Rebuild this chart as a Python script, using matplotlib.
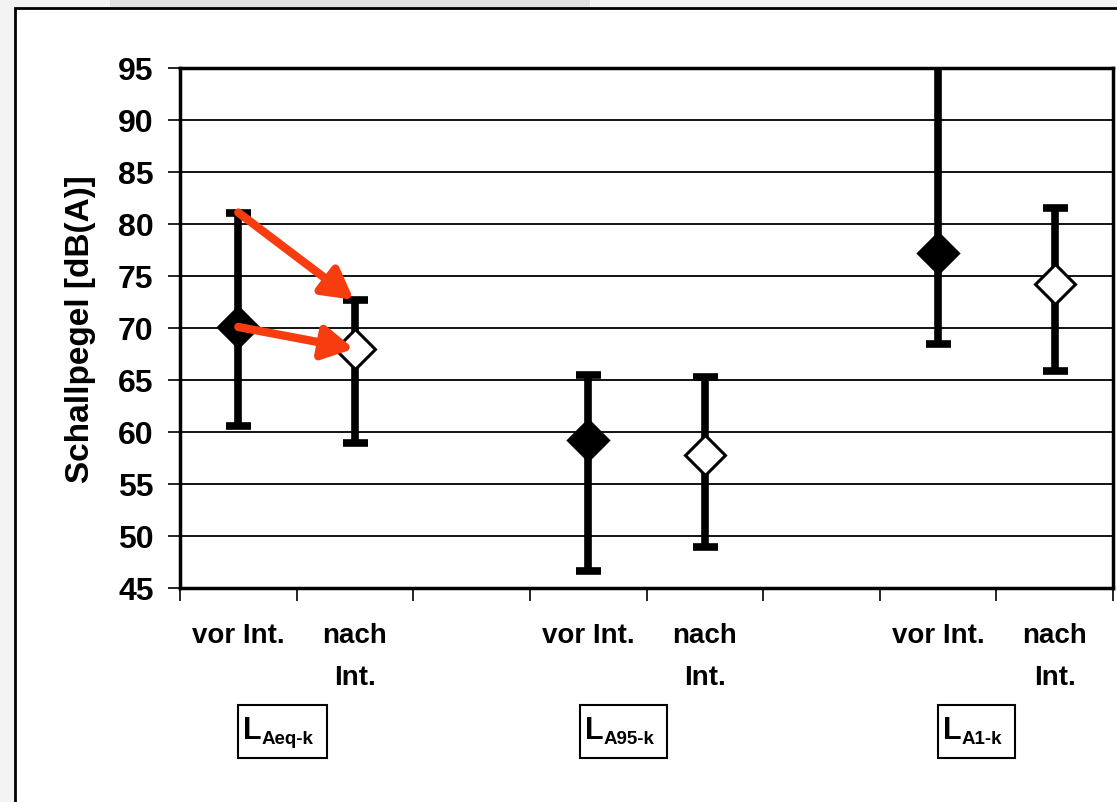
import matplotlib.pyplot as plt
import matplotlib.transforms as mtransforms
from matplotlib.patches import Rectangle

plt.rcParams['font.family'] = ['Liberation Sans', 'DejaVu Sans']

# category slots on the x axis (empty slots separate the groups)
categories = ['vor Int.', 'nach\nInt.', '', 'vor Int.', 'nach\nInt.', '', 'vor Int.', 'nach\nInt.']
slots = [0, 1, 3, 4, 6, 7]
means = [70.1, 68.0, 59.2, 57.8, 77.2, 74.2]
highs = [81.1, 72.7, 65.5, 65.3, 95.5, 81.5]
lows = [60.6, 58.9, 46.6, 48.9, 68.5, 65.9]
filled = [True, False, True, False, True, False]
groups = ['Aeq-k', 'A95-k', 'A1-k']
group_slots = [0, 3, 6]
box_widths = [0.76, 0.75, 0.66]
yticks = list(range(45, 100, 5))

fig = plt.figure(figsize=(11.17, 8.03), dpi=100)
fig.patch.set_facecolor('#f3f3f3')

# blurred picture strip above the page, roughly
fig.patches.append(Rectangle((110 / 1117, 1 - 9 / 803), 480 / 1117, 9 / 803,
                             transform=fig.transFigure, facecolor='#e2e2e2',
                             edgecolor='none', zorder=-6))
# white page with black frame
page = Rectangle((15 / 1117, -0.01), 1.02, 1 - 9 / 803 + 0.01, transform=fig.transFigure,
                 facecolor='white', edgecolor='black', linewidth=2, zorder=-5)
fig.patches.append(page)

ax = fig.add_axes([180 / 1117, 1 - 589 / 803, (1113 - 180) / 1117, 520 / 803])
ax.set_zorder(1)
ax.set_xlim(0, 8)
ax.set_ylim(45, 95)

for v in yticks:
    ax.axhline(v, color='black', linewidth=1.3, zorder=1)

for s in ax.spines.values():
    s.set_linewidth(2.5)
    s.set_zorder(2)

ax.set_yticks(yticks)
ax.set_yticklabels([str(v) for v in yticks], fontsize=23, fontweight='bold')
ax.tick_params(axis='y', direction='out', length=9, width=1.2, pad=10)
ax.set_xticks(range(9))
ax.set_xticklabels([])
ax.tick_params(axis='x', direction='out', length=9, width=1.2)

ax.set_ylabel('Schallpegel [dB(A)]', fontsize=24, fontweight='bold', labelpad=16)

xs = [s + 0.5 for s in slots]
for x, m, hi, lo, f in zip(xs, means, highs, lows, filled):
    ax.errorbar([x], [m], yerr=[[m - lo], [hi - m]], fmt='none', ecolor='black',
                elinewidth=5.5, capsize=9, capthick=5.5, zorder=3)
    ax.plot([x], [m], marker='D', markersize=20, markeredgewidth=2.2,
            markeredgecolor='black', markerfacecolor='black' if f else 'white',
            linestyle='none', zorder=4)

# red arrows for the first group
red = '#f73c10'
for y0, y1 in [(highs[0], highs[1]), (means[0], means[1])]:
    ax.annotate('', xy=(xs[1] - 0.01, y1), xytext=(xs[0], y0),
                arrowprops=dict(arrowstyle='-|>,head_length=1.8,head_width=1.0',
                                color=red, linewidth=6, shrinkA=0, shrinkB=0),
                zorder=5)

# category labels
trans = mtransforms.blended_transform_factory(ax.transData, ax.transAxes)
for i, lab in enumerate(categories):
    if lab:
        ax.text(i + 0.5, -0.066, lab, transform=trans, ha='center', va='top',
                fontsize=20, fontweight='bold', linespacing=1.78)

# group boxes
for g, s, w in zip(groups, group_slots, box_widths):
    x0 = s + 0.5 - (0.07 if s == 3 else 0)
    ax.add_patch(Rectangle((x0, -0.327), w, 0.102, transform=trans, fill=False,
                           edgecolor='black', linewidth=1.5, clip_on=False))
    ax.text(x0 + 0.04, -0.274, 'L', transform=trans, ha='left', va='center',
            fontsize=22, fontweight='bold')
    ax.text(x0 + 0.2, -0.29, g, transform=trans, ha='left', va='center',
            fontsize=13.5, fontweight='bold')

fig.savefig('out.png', dpi=100)
